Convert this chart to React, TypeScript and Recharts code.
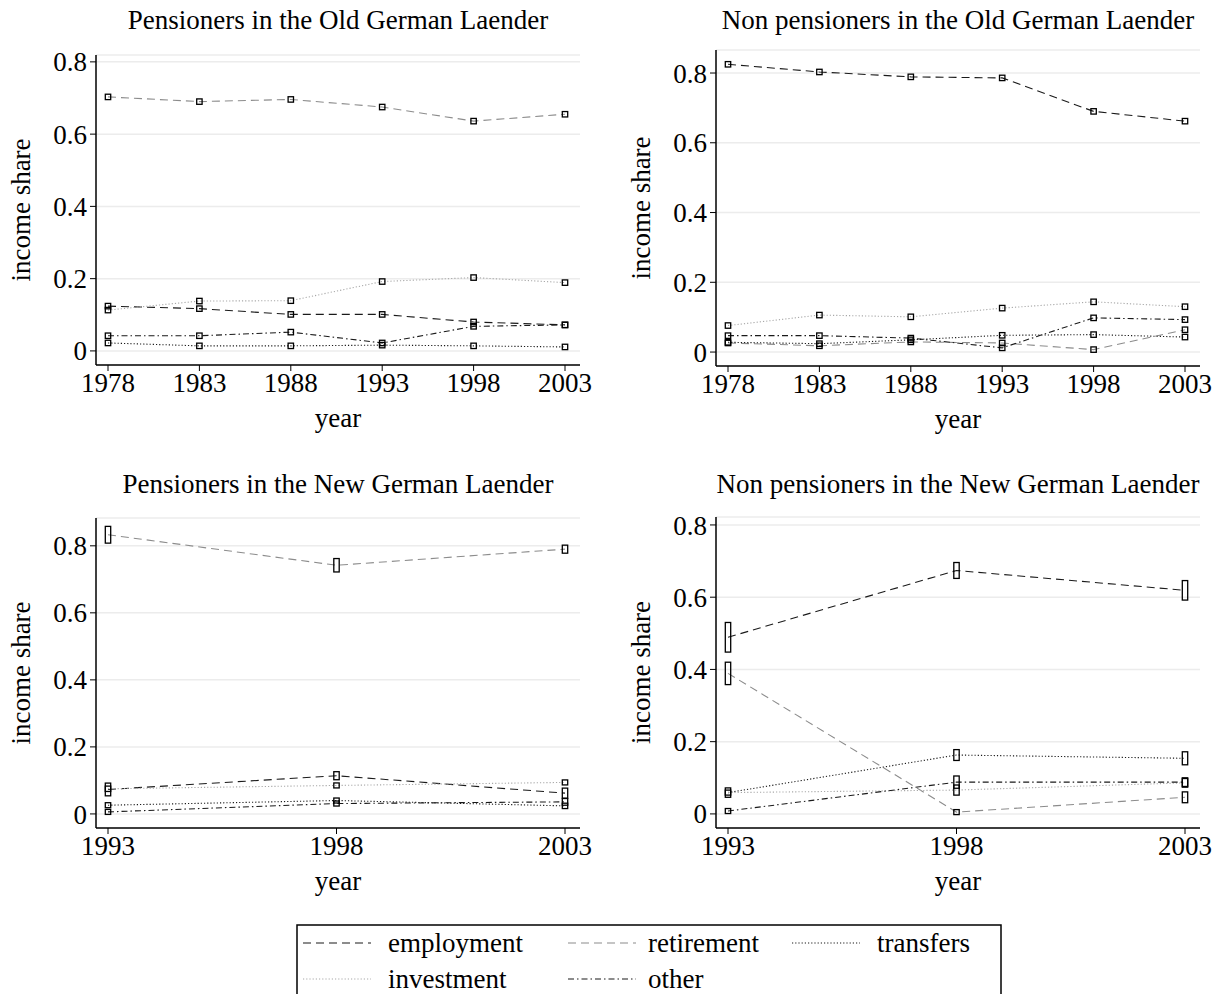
import React from 'react';
import { LineChart, Line, XAxis, YAxis, CartesianGrid, Label } from 'recharts';

// years
const oldYears = [1978, 1983, 1988, 1993, 1998, 2003];
const newYears = [1993, 1998, 2003];

// Pensioners, old Laender
const opEmployment = [0.124, 0.117, 0.101, 0.101, 0.08, 0.072];
const opRetirement = [0.703, 0.69, 0.696, 0.675, 0.636, 0.655];
const opTransfers = [0.022, 0.014, 0.014, 0.016, 0.014, 0.011];
const opInvestment = [0.113, 0.138, 0.139, 0.192, 0.203, 0.189];
const opOther = [0.042, 0.042, 0.052, 0.022, 0.068, 0.072];

// Non pensioners, old Laender
const onEmployment = [0.825, 0.803, 0.789, 0.786, 0.69, 0.662];
const onRetirement = [0.026, 0.018, 0.029, 0.026, 0.007, 0.064];
const onTransfers = [0.028, 0.024, 0.035, 0.048, 0.05, 0.043];
const onInvestment = [0.076, 0.106, 0.101, 0.126, 0.144, 0.13];
const onOther = [0.047, 0.047, 0.04, 0.012, 0.098, 0.093];

// Pensioners, new Laender
const npEmployment = [0.073, 0.114, 0.062];
const npRetirement = [0.833, 0.742, 0.79];
const npTransfers = [0.026, 0.04, 0.024];
const npInvestment = [0.075, 0.085, 0.094];
const npOther = [0.006, 0.031, 0.036];

// Non pensioners, new Laender
const nnEmployment = [0.489, 0.674, 0.619];
const nnRetirement = [0.389, 0.005, 0.046];
const nnTransfers = [0.059, 0.163, 0.154];
const nnInvestment = [0.059, 0.066, 0.086];
const nnOther = [0.008, 0.088, 0.088];

// confidence half widths (new Laender only, old ones are tiny)
const npCiEmployment = [0.019, 0.012, 0.015];
const npCiRetirement = [0.025, 0.02, 0.012];
const npCiTransfers = [0.006, 0.006, 0.008];
const npCiInvestment = [0.008, 0.007, 0.007];
const npCiOther = [0.004, 0.006, 0.01];

const nnCiEmployment = [0.041, 0.022, 0.027];
const nnCiRetirement = [0.031, 0.004, 0.015];
const nnCiTransfers = [0.006, 0.015, 0.018];
const nnCiInvestment = [0.013, 0.014, 0.012];
const nnCiOther = [0.004, 0.017, 0.012];

const yTicks = [0, 0.2, 0.4, 0.6, 0.8];

const FONT = '"Liberation Serif", "Times New Roman", serif';

const seriesStyle = [
  { key: 'employment', stroke: '#1a1a1a', dash: '8 5' },
  { key: 'retirement', stroke: '#8c8c8c', dash: '8 5' },
  { key: 'transfers', stroke: '#1a1a1a', dash: '1.2 2' },
  { key: 'investment', stroke: '#a8a8a8', dash: '1.2 2' },
  { key: 'other', stroke: '#1a1a1a', dash: '6 3 1.5 3' },
];

const build = (years: number[], cols: number[][]) =>
  years.map((year, i) => ({
    year,
    employment: cols[0][i],
    retirement: cols[1][i],
    transfers: cols[2][i],
    investment: cols[3][i],
    other: cols[4][i],
  }));

const W = 610;
const H = 440;
const YAXIS_W = 96;
const RIGHT = 30;

interface PanelProps {
  left: number;
  top: number;
  title: string;
  years: number[];
  cols: number[][];
  ci?: number[][];
  domain: [number, number];
  plotTop: number;
  plotBottom: number;
}

const Panel: React.FC<PanelProps> = ({ left, top, title, years, cols, ci, domain, plotTop, plotBottom }) => {
  const data = build(years, cols);
  const pxPerUnit = (plotBottom - plotTop) / (domain[1] - domain[0]);

  const makeDot = (s: number) => (props: any) => {
    const { cx, cy, index } = props;
    const half = ci ? Math.max(ci[s][index] * pxPerUnit, 2.5) : 2.7;
    return (
      <rect
        key={`d-${s}-${index}`}
        x={cx - 2.7}
        y={cy - half}
        width={5.4}
        height={half * 2}
        fill="#fff"
        fillOpacity={0}
        stroke="#000"
        strokeWidth={1.3}
      />
    );
  };

  return (
    <div style={{ position: 'absolute', left, top, width: W, height: H }}>
      <div
        style={{
          position: 'absolute',
          left: YAXIS_W - 20,
          width: W - YAXIS_W - RIGHT + 40,
          top: 4,
          textAlign: 'center',
          fontFamily: FONT,
          fontSize: 27,
          lineHeight: '32px',
          whiteSpace: 'nowrap',
        }}
      >
        {title}
      </div>
      <LineChart
        width={W}
        height={H}
        data={data}
        margin={{ top: plotTop, right: RIGHT, left: 0, bottom: 0 }}
        style={{ position: 'absolute', left: 0, top: 0 }}
      >
        <CartesianGrid horizontal vertical={false} stroke="#ececec" strokeWidth={1.5} />
        <XAxis
          dataKey="year"
          type="number"
          domain={[years[0], years[years.length - 1]]}
          ticks={years}
          padding={{ left: 12, right: 15 }}
          height={H - plotBottom}
          axisLine={{ stroke: '#000', strokeWidth: 1.5 }}
          tickLine={{ stroke: '#000' }}
          tickSize={6}
          tickMargin={2}
          tick={{ fill: '#000', fontSize: 27, fontFamily: FONT }}
        >
          <Label
            content={(p: any) => (
              <text
                x={p.viewBox.x + p.viewBox.width / 2}
                y={p.viewBox.y + 62}
                textAnchor="middle"
                fontFamily={FONT}
                fontSize={27}
                fill="#000"
              >
                year
              </text>
            )}
          />
        </XAxis>
        <YAxis
          type="number"
          domain={domain}
          ticks={yTicks}
          allowDataOverflow
          width={YAXIS_W}
          axisLine={{ stroke: '#000', strokeWidth: 1.5 }}
          tickLine={{ stroke: '#000' }}
          tickSize={6}
          tickMargin={3}
          tick={{ fill: '#000', fontSize: 27, fontFamily: FONT }}
          tickFormatter={(v: number) => (v === 0 ? '0' : v.toFixed(1))}
        >
          <Label
            content={(p: any) => {
              const x = 30;
              const y = p.viewBox.y + p.viewBox.height / 2;
              return (
                <text
                  x={x}
                  y={y}
                  transform={`rotate(-90, ${x}, ${y})`}
                  textAnchor="middle"
                  fontFamily={FONT}
                  fontSize={27}
                  fill="#000"
                >
                  income share
                </text>
              );
            }}
          />
        </YAxis>
        {seriesStyle.map((s, i) => (
          <Line
            key={s.key}
            type="linear"
            dataKey={s.key}
            stroke={s.stroke}
            strokeWidth={1.1}
            strokeDasharray={s.dash}
            dot={makeDot(i)}
            activeDot={false}
            isAnimationActive={false}
          />
        ))}
      </LineChart>
    </div>
  );
};

const legendRows = [
  [
    { key: 'employment', x: 303, tx: 388 },
    { key: 'retirement', x: 568, tx: 648 },
    { key: 'transfers', x: 792, tx: 877 },
  ],
  [
    { key: 'investment', x: 303, tx: 388 },
    { key: 'other', x: 568, tx: 648 },
  ],
];

const LegendBox: React.FC = () => (
  <svg width={1219} height={994} style={{ position: 'absolute', left: 0, top: 0, pointerEvents: 'none' }}>
    <rect x={297} y={925} width={704} height={90} fill="#fff" stroke="#000" strokeWidth={1.5} />
    {legendRows.map((row, r) =>
      row.map((item) => {
        const st = seriesStyle.find((s) => s.key === item.key)!;
        const y = 943 + r * 36;
        return (
          <g key={item.key}>
            <line x1={item.x} x2={item.x + 68} y1={y} y2={y} stroke={st.stroke} strokeWidth={1.1} strokeDasharray={st.dash} />
            <text x={item.tx} y={y + 9} fontFamily={FONT} fontSize={27} fill="#000">
              {item.key}
            </text>
          </g>
        );
      })
    )}
  </svg>
);

export default function App() {
  return (
    <div style={{ position: 'absolute', left: 0, top: 0, width: 1219, height: 994, background: '#fff', overflow: 'hidden' }}>
      <Panel
        left={0}
        top={0}
        title="Pensioners in the Old German Laender"
        years={oldYears}
        cols={[opEmployment, opRetirement, opTransfers, opInvestment, opOther]}
        domain={[-0.039, 0.819]}
        plotTop={55}
        plotBottom={365}
      />
      <Panel
        left={620}
        top={0}
        title="Non pensioners in the Old German Laender"
        years={oldYears}
        cols={[onEmployment, onRetirement, onTransfers, onInvestment, onOther]}
        domain={[-0.04, 0.866]}
        plotTop={50}
        plotBottom={366}
      />
      <Panel
        left={0}
        top={464}
        title="Pensioners in the New German Laender"
        years={newYears}
        cols={[npEmployment, npRetirement, npTransfers, npInvestment, npOther]}
        ci={[npCiEmployment, npCiRetirement, npCiTransfers, npCiInvestment, npCiOther]}
        domain={[-0.042, 0.883]}
        plotTop={54}
        plotBottom={364}
      />
      <Panel
        left={620}
        top={464}
        title="Non pensioners in the New German Laender"
        years={newYears}
        cols={[nnEmployment, nnRetirement, nnTransfers, nnInvestment, nnOther]}
        ci={[nnCiEmployment, nnCiRetirement, nnCiTransfers, nnCiInvestment, nnCiOther]}
        domain={[-0.039, 0.822]}
        plotTop={53}
        plotBottom={364}
      />
      <LegendBox />
    </div>
  );
}
